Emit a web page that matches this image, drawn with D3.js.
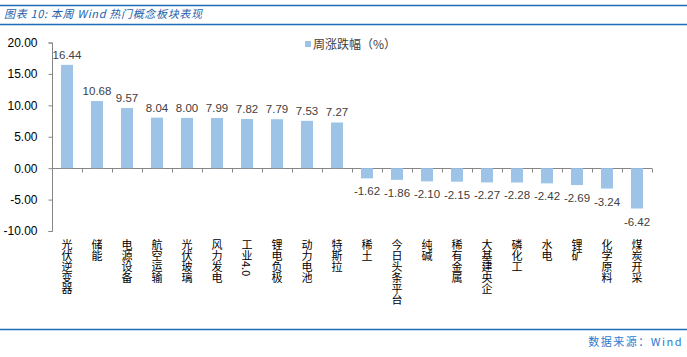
<!DOCTYPE html>
<html><head><meta charset="utf-8">
<script src="https://cdn.jsdelivr.net/npm/d3@7"></script>
<style>body{margin:0;background:#fff}svg{display:block}</style>
</head><body>
<svg id="c" width="687" height="357"></svg>
<script>
const categories = ["光伏逆变器","储能","电源设备","航空运输","光伏玻璃","风力发电","工业4.0","锂电负极","动力电池","特斯拉","稀土","今日头条平台","纯碱","稀有金属","大基建央企","磷化工","水电","锂矿","化学原料","煤炭开采"];
const values = [16.44,10.68,9.57,8.04,8.00,7.99,7.82,7.79,7.53,7.27,-1.62,-1.86,-2.10,-2.15,-2.27,-2.28,-2.42,-2.69,-3.24,-6.42];
const yTicks = [20,15,10,5,0,-5,-10];
const seriesName = "周涨跌幅（%）";
const title = "图表 10: 本周 Wind 热门概念板块表现";
const source = "数据来源：Wind";

const svg = d3.select("#c");
const font = "'Noto Sans CJK SC','Liberation Sans',sans-serif";
const numFont = "'Liberation Sans',sans-serif";
const blue = "#1F6DB8";
const fmt = d => d3.format(".2f")(d).replace("\u2212","-");

// header / footer lines
svg.append("line").attr("x1",0).attr("x2",687).attr("y1",5.5).attr("y2",5.5).attr("stroke",blue).attr("stroke-width",1.5);
svg.append("line").attr("x1",0).attr("x2",687).attr("y1",24.5).attr("y2",24.5).attr("stroke",blue).attr("stroke-width",1.5);
svg.append("line").attr("x1",0).attr("x2",687).attr("y1",329.5).attr("y2",329.5).attr("stroke",blue).attr("stroke-width",1.5);
svg.append("text").attr("x",4).attr("y",18).attr("font-family",font).attr("font-size",11).attr("font-style","italic")
  .attr("fill","#1F5FAD").attr("textLength",198).attr("lengthAdjust","spacing").text(title);
svg.append("text").attr("x",683).attr("y",346).attr("text-anchor","end").attr("font-family",font).attr("font-size",11)
  .attr("fill","#2B7BD0").attr("letter-spacing",1.5).text(source);

const y = d3.scaleLinear().domain([-10,20]).range([231,42.5]);
const x = d3.scaleBand().domain(categories).range([52,652]).paddingInner(0.6).paddingOuter(0.3);
const xt = d3.scaleBand().domain(categories).range([52,652]);

// y axis
const yAxis = d3.axisLeft(y).tickValues(yTicks).tickFormat(fmt).tickSize(4).tickPadding(11);
const ga = svg.append("g").attr("transform","translate(52.5,0)").call(yAxis);
ga.select(".domain").attr("stroke","#868686").attr("d",`M-4,${y(20)+0.5}H0V${y(-10)+0.5}H-4`);
ga.selectAll(".tick line").attr("stroke","#868686");
ga.selectAll(".tick text").attr("font-family",numFont).attr("font-size",12).attr("fill","#000");

// zero axis with ticks
const z = Math.round(y(0))+0.5;
svg.append("line").attr("x1",52).attr("x2",652).attr("y1",z).attr("y2",z).attr("stroke","#868686");
svg.selectAll(".xtick").data(categories.concat(["__end"])).join("line")
  .attr("x1",(d,i)=>Math.round(52+i*xt.step())+0.5).attr("x2",(d,i)=>Math.round(52+i*xt.step())+0.5)
  .attr("y1",z).attr("y2",z+4).attr("stroke","#868686");

// bars
const data = categories.map((c,i)=>({c,v:values[i]}));
svg.selectAll(".bar").data(data).join("rect")
  .attr("x",d=>x(d.c)).attr("width",x.bandwidth())
  .attr("y",d=>y(Math.max(0,d.v))).attr("height",d=>Math.abs(y(d.v)-y(0)))
  .attr("fill","#9DC3E6");

// data labels
svg.selectAll(".lbl").data(data).join("text")
  .attr("x",d=>x(d.c)+x.bandwidth()/2)
  .attr("y",d=>d.v>=0 ? y(d.v)-6 : y(d.v)+17)
  .attr("text-anchor","middle").attr("font-family",numFont).attr("font-size",11.5)
  .attr("fill","#404040").text(d=>fmt(d.v));

// x labels vertical
svg.selectAll(".xl").data(categories).join("text")
  .attr("x",d=>x(d)+x.bandwidth()/2).attr("y",239)
  .attr("font-family",font).attr("font-size",11).attr("fill","#000")
  .style("writing-mode","vertical-rl").attr("text-anchor","start")
  .text(d=>d);

// legend
svg.append("rect").attr("x",305).attr("y",41).attr("width",6).attr("height",6).attr("fill","#9DC3E6");
svg.append("text").attr("x",313).attr("y",49).attr("font-family",font).attr("font-size",12).attr("fill","#404040").text(seriesName);
</script>
</body></html>
